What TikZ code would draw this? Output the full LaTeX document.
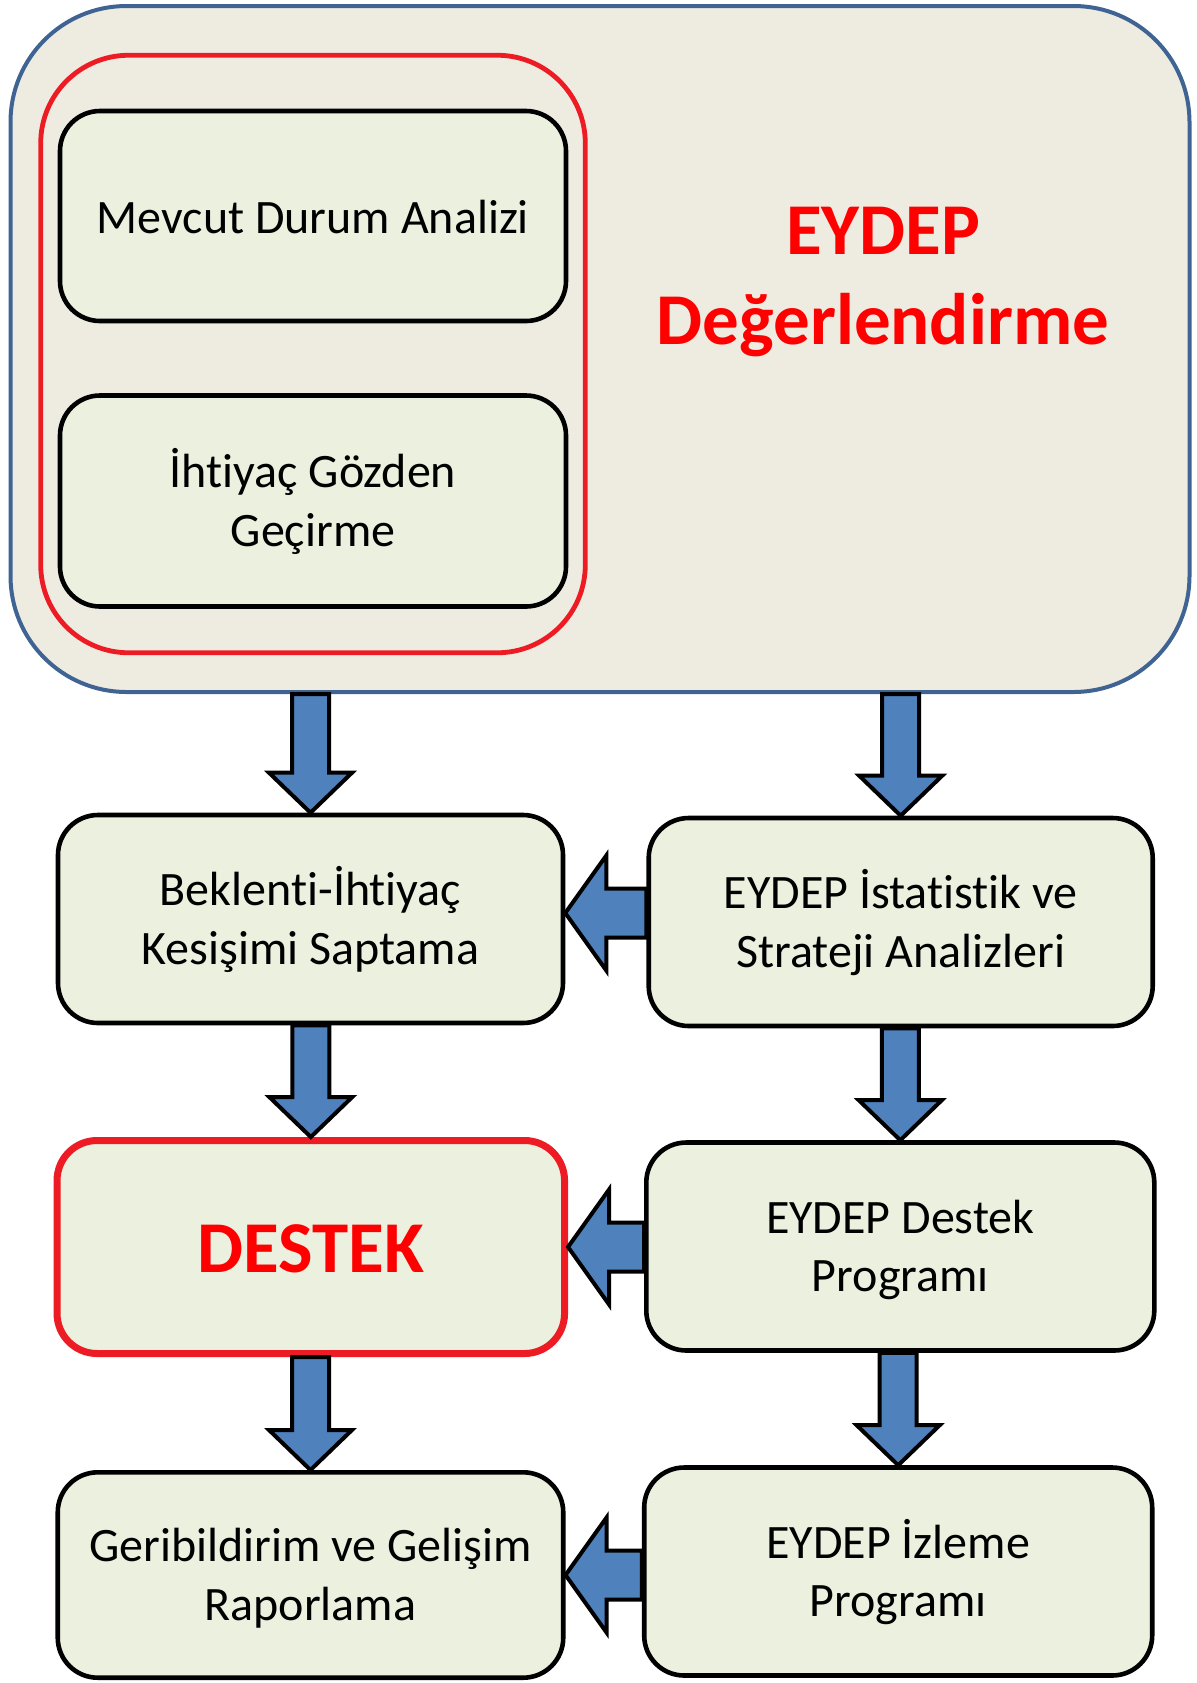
\documentclass[tikz,border=0pt]{standalone}
\usepackage{fontspec}
\setmainfont{Carlito}[Ligatures={NoCommon}]
\usetikzlibrary{calc}
\definecolor{outerfill}{HTML}{EEECE1}
\definecolor{outerline}{HTML}{3F6493}
\definecolor{boxfill}{HTML}{EBF0DF}
\definecolor{redline}{HTML}{ED1C24}
\definecolor{arrowblue}{HTML}{4F81BD}
\definecolor{titlered}{HTML}{FF0000}
\newcommand\topstrut{\rule{0pt}{22pt}}
\newcommand\botstrut{\rule[-6.15pt]{0pt}{6.15pt}}
\tikzset{
  stepbox/.style={draw=black, line width=2.3pt, fill=boxfill, rounded corners=20pt,
    inner sep=0pt, align=center, font=\fontsize{24}{29.3}\selectfont},
  oneline/.style={text height=22pt, text depth=5pt},
  redbox/.style={stepbox, draw=redline, line width=3.5pt},
  bigred/.style={text=titlered, font=\fontsize{36.5}{45}\selectfont\bfseries, inner sep=0pt},
  blockarrow/.style={draw=black, line width=2pt, fill=arrowblue, line join=miter},
}
% down block arrow from node #1 (bottom) to node #2 (top)
\newcommand\downblock[2]{%
  \draw[blockarrow] let \p1=(#2.north), \p2=(#1.south) in
    (\x1-9.25pt,\y2) -- (\x1-9.25pt,\y1+20pt) -- (\x1-20.75pt,\y1+20pt) -- (\x1,\y1)
    -- (\x1+20.75pt,\y1+20pt) -- (\x1+9.25pt,\y1+20pt) -- (\x1+9.25pt,\y2) -- cycle;}
% left block arrow from node #2 (west side) to node #3 (east side), optional y shift #1
\newcommand\leftblock[3][0pt]{%
  \draw[blockarrow] let \p1=(#3.east), \p2=(#2.west) in
    (\x2,\y1+12.25pt+#1) -- (\x1+20.5pt,\y1+12.25pt+#1) -- (\x1+20.5pt,\y1+28.75pt+#1)
    -- (\x1,\y1+#1) -- (\x1+20.5pt,\y1-28.75pt+#1) -- (\x1+20.5pt,\y1-12.25pt+#1)
    -- (\x2,\y1-12.25pt+#1) -- cycle;}
\begin{document}
\begin{tikzpicture}[x=0.5pt,y=-0.5pt]
\useasboundingbox (0,0) rectangle (1196,1683);
\fill[white] (0,0) rectangle (1196,1683);

% top group
\node[draw=outerline, line width=2pt, fill=outerfill, rounded corners=58pt,
  minimum width=589.5pt, minimum height=343pt, inner sep=0pt] (outer) at (600,349) {};
\node[draw=redline, line width=2.4pt, rounded corners=44pt,
  minimum width=272.3pt, minimum height=298.75pt, inner sep=0pt] (inner) at (313,354) {};
\node[stepbox, oneline, minimum width=253pt, minimum height=105pt] (mevcut) at (313,216) {Mevcut Durum Analizi};
\node[stepbox, minimum width=253pt, minimum height=105.5pt] (ihtiyac) at (313,501) {\topstrut İhtiyaç Gözden\\Geçirme\botstrut};
\node[bigred, anchor=base] (title1) at (883,254) {EYDEP};
\node[bigred, anchor=base] (title2) at (883,344) {Değerlendirme};

% left column
\node[stepbox, minimum width=252.5pt, minimum height=104pt] (beklenti) at (310.5,919) {\topstrut Beklenti-İhtiyaç\\Kesişimi Saptama\botstrut};
\node[redbox, minimum width=253.75pt, minimum height=106.5pt, text height=30pt, text depth=4.3pt,
  font=\fontsize{36.5}{45}\selectfont\bfseries, text=titlered] (destek) at (310.8,1247) {DESTEK};
\node[stepbox, minimum width=252.75pt, minimum height=102.7pt] (geri) at (310.5,1575) {\topstrut Geribildirim ve Gelişim\\Raporlama\botstrut};

% right column
\node[stepbox, minimum width=252pt, minimum height=104pt] (istat) at (900.7,922) {\topstrut EYDEP İstatistik ve\\Strateji Analizleri\botstrut};
\node[stepbox, minimum width=254pt, minimum height=104pt] (dprog) at (900.3,1246.5) {\topstrut EYDEP Destek\\Programı\botstrut};
\node[stepbox, minimum width=254pt, minimum height=104pt] (izleme) at (898.2,1571.5) {\topstrut EYDEP İzleme\\Programı\botstrut};

% vertical arrows
\downblock{outer}{beklenti}
\downblock{outer}{istat}
\downblock{beklenti}{destek}
\downblock{istat}{dprog}
\downblock{destek}{geri}
\downblock{dprog}{izleme}

% horizontal arrows
\leftblock[3pt]{istat}{beklenti}
\leftblock{dprog}{destek}
\leftblock{izleme}{geri}
\end{tikzpicture}
\end{document}
